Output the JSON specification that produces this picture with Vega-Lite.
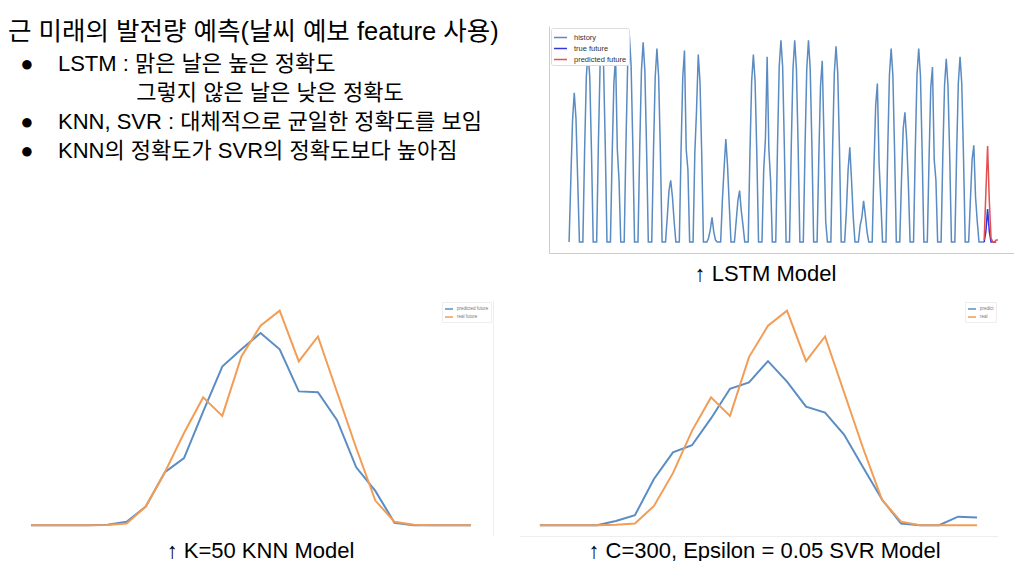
{
  "$schema": "https://vega.github.io/schema/vega-lite/v6.json",
  "padding": {"left": 8, "top": 20, "right": 0, "bottom": 0},
  "background": "white",
  "config": {
    "font": "Liberation Sans, Noto Sans CJK KR",
    "view": {"stroke": null},
    "axis": {"grid": false, "ticks": false, "labels": false, "titleFontWeight": "normal", "titleColor": "#000000", "titleFontSize": 22, "titleFont": "Liberation Sans, Noto Sans CJK KR"}
  },
  "datasets": {
    "history": [
      {"t":3,"v":0},{"t":6,"v":0.3},{"t":9,"v":0.59},{"t":12,"v":0.725},{"t":15,"v":0.6},{"t":18,"v":0.3},{"t":21,"v":0},
      {"t":24,"v":0},{"t":27,"v":0},{"t":30,"v":0.44},{"t":33,"v":0.8},{"t":36,"v":0.93},{"t":39,"v":0.8},{"t":42,"v":0.44},{"t":45,"v":0},
      {"t":48,"v":0},{"t":51,"v":0},{"t":54,"v":0.47},{"t":57,"v":0.86},{"t":60,"v":1},{"t":63,"v":0.86},{"t":66,"v":0.47},{"t":69,"v":0},
      {"t":72,"v":0},{"t":75,"v":0},{"t":78,"v":0.42},{"t":81,"v":0.77},{"t":84,"v":0.9},{"t":87,"v":0.45},{"t":90,"v":0.3},{"t":93,"v":0},
      {"t":96,"v":0},{"t":99,"v":0},{"t":102,"v":0.47},{"t":105,"v":0.86},{"t":108,"v":1},{"t":111,"v":0.86},{"t":114,"v":0.47},{"t":117,"v":0},
      {"t":120,"v":0},{"t":123,"v":0},{"t":126,"v":0.45},{"t":129,"v":0.83},{"t":132,"v":0.97},{"t":135,"v":0.83},{"t":138,"v":0.45},{"t":141,"v":0},
      {"t":144,"v":0},{"t":147,"v":0},{"t":150,"v":0.44},{"t":153,"v":0.8},{"t":156,"v":0.94},{"t":159,"v":0.8},{"t":162,"v":0.44},{"t":165,"v":0},
      {"t":168,"v":0},{"t":171,"v":0},{"t":174,"v":0.12},{"t":177,"v":0.25},{"t":180,"v":0.3},{"t":183,"v":0.22},{"t":186,"v":0.1},{"t":189,"v":0},
      {"t":192,"v":0},{"t":195,"v":0},{"t":198,"v":0.44},{"t":201,"v":0.8},{"t":204,"v":0.93},{"t":207,"v":0.45},{"t":210,"v":0.35},{"t":213,"v":0},
      {"t":216,"v":0},{"t":219,"v":0},{"t":222,"v":0.43},{"t":225,"v":0.64},{"t":228,"v":0.91},{"t":231,"v":0.78},{"t":234,"v":0.43},{"t":237,"v":0},
      {"t":240,"v":0},{"t":243,"v":0},{"t":246,"v":0.02},{"t":249,"v":0.06},{"t":252,"v":0.12},{"t":255,"v":0.05},{"t":258,"v":0.01},{"t":261,"v":0},
      {"t":264,"v":0},{"t":267,"v":0},{"t":270,"v":0.2},{"t":273,"v":0.36},{"t":276,"v":0.5},{"t":279,"v":0.37},{"t":282,"v":0.18},{"t":285,"v":0},
      {"t":288,"v":0},{"t":291,"v":0},{"t":294,"v":0.1},{"t":297,"v":0.2},{"t":300,"v":0.25},{"t":303,"v":0.15},{"t":306,"v":0.08},{"t":309,"v":0},
      {"t":312,"v":0},{"t":315,"v":0},{"t":318,"v":0.43},{"t":321,"v":0.78},{"t":324,"v":0.91},{"t":327,"v":0.78},{"t":330,"v":0.43},{"t":333,"v":0},
      {"t":336,"v":0},{"t":339,"v":0},{"t":342,"v":0.35},{"t":345,"v":0.5},{"t":348,"v":0.9},{"t":351,"v":0.45},{"t":354,"v":0.3},{"t":357,"v":0},
      {"t":360,"v":0},{"t":363,"v":0},{"t":366,"v":0.46},{"t":369,"v":0.85},{"t":372,"v":0.98},{"t":375,"v":0.85},{"t":378,"v":0.46},{"t":381,"v":0},
      {"t":384,"v":0},{"t":387,"v":0},{"t":390,"v":0.46},{"t":393,"v":0.84},{"t":396,"v":0.98},{"t":399,"v":0.84},{"t":402,"v":0.46},{"t":405,"v":0},
      {"t":408,"v":0},{"t":411,"v":0},{"t":414,"v":0.46},{"t":417,"v":0.84},{"t":420,"v":0.98},{"t":423,"v":0.84},{"t":426,"v":0.46},{"t":429,"v":0},
      {"t":432,"v":0},{"t":435,"v":0},{"t":438,"v":0.41},{"t":441,"v":0.76},{"t":444,"v":0.88},{"t":447,"v":0.5},{"t":450,"v":0.1},{"t":453,"v":0},
      {"t":456,"v":0},{"t":459,"v":0},{"t":462,"v":0.45},{"t":465,"v":0.82},{"t":468,"v":0.95},{"t":471,"v":0.82},{"t":474,"v":0.45},{"t":477,"v":0},
      {"t":480,"v":0},{"t":483,"v":0},{"t":486,"v":0.15},{"t":489,"v":0.35},{"t":492,"v":0.46},{"t":495,"v":0.3},{"t":498,"v":0.12},{"t":501,"v":0},
      {"t":504,"v":0},{"t":507,"v":0},{"t":510,"v":0.08},{"t":513,"v":0.12},{"t":516,"v":0.2},{"t":519,"v":0.13},{"t":522,"v":0.05},{"t":525,"v":0},
      {"t":528,"v":0},{"t":531,"v":0},{"t":534,"v":0.36},{"t":537,"v":0.66},{"t":540,"v":0.77},{"t":543,"v":0.38},{"t":546,"v":0.2},{"t":549,"v":0},
      {"t":552,"v":0},{"t":555,"v":0},{"t":558,"v":0.44},{"t":561,"v":0.81},{"t":564,"v":0.94},{"t":567,"v":0.81},{"t":570,"v":0.44},{"t":573,"v":0},
      {"t":576,"v":0},{"t":579,"v":0},{"t":582,"v":0.3},{"t":585,"v":0.55},{"t":588,"v":0.63},{"t":591,"v":0.5},{"t":594,"v":0.28},{"t":597,"v":0},
      {"t":600,"v":0},{"t":603,"v":0},{"t":606,"v":0.44},{"t":609,"v":0.81},{"t":612,"v":0.94},{"t":615,"v":0.81},{"t":618,"v":0.44},{"t":621,"v":0},
      {"t":624,"v":0},{"t":627,"v":0},{"t":630,"v":0.4},{"t":633,"v":0.75},{"t":636,"v":0.85},{"t":639,"v":0.4},{"t":642,"v":0.3},{"t":645,"v":0},
      {"t":648,"v":0},{"t":651,"v":0},{"t":654,"v":0.42},{"t":657,"v":0.76},{"t":660,"v":0.89},{"t":663,"v":0.76},{"t":666,"v":0.42},{"t":669,"v":0},
      {"t":672,"v":0},{"t":675,"v":0},{"t":678,"v":0.42},{"t":681,"v":0.77},{"t":684,"v":0.9},{"t":687,"v":0.77},{"t":690,"v":0.42},{"t":693,"v":0},
      {"t":696,"v":0},{"t":699,"v":0},{"t":702,"v":0.2},{"t":705,"v":0.4},{"t":708,"v":0.47},{"t":711,"v":0.22},{"t":714,"v":0.1},{"t":717,"v":0},
      {"t":720,"v":0},{"t":723,"v":0},{"t":726,"v":0}
    ],
    "trueFuture": [
      {"t":726,"v":0},{"t":729,"v":0.05},{"t":732,"v":0.16},{"t":735,"v":0.05},{"t":738,"v":0},{"t":741,"v":0},{"t":744,"v":0},{"t":747,"v":0}
    ],
    "predictedFuture": [
      {"t":726,"v":0.01},{"t":729,"v":0.24},{"t":732,"v":0.466},{"t":735,"v":0.2},{"t":738,"v":0.02},{"t":741,"v":0},{"t":744,"v":0},{"t":747,"v":0.01},{"t":750,"v":0.01}
    ],
    "knn": [
      {"h":0,"p":0,"r":0},{"h":1,"p":0,"r":0},{"h":2,"p":0,"r":0},{"h":3,"p":0,"r":0},
      {"h":4,"p":0.3,"r":0.15},{"h":5,"p":1.6,"r":0.8},{"h":6,"p":8.7,"r":8.7},{"h":7,"p":24.7,"r":24.7},
      {"h":8,"p":31.3,"r":43},{"h":9,"p":53,"r":59.6},{"h":10,"p":74,"r":51},{"h":11,"p":82,"r":78.7},
      {"h":12,"p":89.6,"r":93},{"h":13,"p":82,"r":100},{"h":14,"p":62.4,"r":76.4},{"h":15,"p":62,"r":88},
      {"h":16,"p":49,"r":62},{"h":17,"p":27,"r":36},{"h":18,"p":16,"r":11.5},{"h":19,"p":1.2,"r":1.6},
      {"h":20,"p":0,"r":0.2},{"h":21,"p":0,"r":0},{"h":22,"p":0,"r":0},{"h":23,"p":0,"r":0}
    ],
    "svr": [
      {"h":0,"p":0,"r":0},{"h":1,"p":0,"r":0},{"h":2,"p":0,"r":0},{"h":3,"p":0,"r":0},
      {"h":4,"p":2,"r":0.2},{"h":5,"p":4.7,"r":0.8},{"h":6,"p":21.6,"r":9},{"h":7,"p":34,"r":24.3},
      {"h":8,"p":37.3,"r":44},{"h":9,"p":49.8,"r":59.6},{"h":10,"p":63.6,"r":51},{"h":11,"p":66.6,"r":78.4},
      {"h":12,"p":76.5,"r":93},{"h":13,"p":67,"r":100},{"h":14,"p":55.3,"r":76.5},{"h":15,"p":52.5,"r":88},
      {"h":16,"p":42.3,"r":62},{"h":17,"p":27,"r":36},{"h":18,"p":12,"r":11.8},{"h":19,"p":0.8,"r":1.7},
      {"h":20,"p":0,"r":0},{"h":21,"p":0,"r":0},{"h":22,"p":4,"r":0},{"h":23,"p":3.6,"r":0}
    ]
  },
  "spacing": 16,
  "vconcat": [
    {
      "spacing": 21,
      "resolve": {"scale": {"color": "independent"}, "legend": {"color": "independent"}},
      "hconcat": [
        {
          "width": 520,
          "height": 1,
          "title": {
            "text": "근 미래의 발전량 예측(날씨 예보 feature 사용)",
            "subtitle": [
              "\u200b\u00a0\u00a0●\u00a0\u00a0\u00a0\u00a0LSTM : 맑은 날은 높은 정확도",
              "\u200b\u00a0\u00a0\u00a0\u00a0\u00a0\u00a0\u00a0\u00a0\u00a0\u00a0\u00a0\u00a0\u00a0\u00a0\u00a0\u00a0\u00a0\u00a0\u00a0\u00a0\u00a0그렇지 않은 날은 낮은 정확도",
              "\u200b\u00a0\u00a0●\u00a0\u00a0\u00a0\u00a0KNN, SVR : 대체적으로 균일한 정확도를 보임",
              "\u200b\u00a0\u00a0●\u00a0\u00a0\u00a0\u00a0KNN의 정확도가 SVR의 정확도보다 높아짐"
            ],
            "anchor": "start",
            "frame": "group",
            "font": "Liberation Sans, Noto Sans CJK KR",
            "fontSize": 25.5,
            "fontWeight": "normal",
            "color": "#000000",
            "lineHeight": 25,
            "offset": -142,
            "subtitleFont": "Liberation Sans, Noto Sans CJK KR",
            "subtitleFontSize": 22,
            "subtitleColor": "#000000",
            "subtitleLineHeight": 29.3,
            "subtitlePadding": 8
          },
          "data": {"values": [{"note": ""}]},
          "mark": {"type": "text"},
          "encoding": {"text": {"field": "note"}}
        },
        {
          "width": 465,
          "height": 227,
          "encoding": {
            "x": {"field": "t", "type": "quantitative", "scale": {"domain": [-32, 778], "nice": false, "zero": false},
                  "axis": {"domain": true, "domainColor": "#cccccc", "title": "↑ LSTM Model", "titlePadding": 10, "titleX": 216}},
            "y": {"field": "v", "type": "quantitative", "scale": {"domain": [-0.053, 1.049], "nice": false, "zero": false},
                  "axis": {"domain": true, "domainColor": "#cccccc", "title": null}}
          },
          "layer": [
            {
              "data": {"name": "history"},
              "mark": {"type": "line", "strokeWidth": 1.5},
              "encoding": {
                "color": {
                  "datum": "history",
                  "scale": {"domain": ["history", "true future", "predicted future"], "range": ["#5a8bc2", "#3535d8", "#e35050"]},
                  "legend": {"title": null, "orient": "top-left", "offset": 2, "padding": 2, "strokeColor": "#dddddd", "fillColor": "#ffffff", "cornerRadius": 2,
                             "symbolType": "stroke", "symbolSize": 169, "symbolStrokeWidth": 1.5, "labelFontSize": 7.5, "labelColor": "#333333", "rowPadding": -7, "labelOffset": 6}
                }
              }
            },
            {
              "data": {"name": "trueFuture"},
              "mark": {"type": "line", "strokeWidth": 1.5},
              "encoding": {"color": {"datum": "true future"}}
            },
            {
              "data": {"name": "predictedFuture"},
              "mark": {"type": "line", "strokeWidth": 1.5},
              "encoding": {"color": {"datum": "predicted future"}}
            }
          ]
        }
      ]
    },
    {
      "spacing": 26,
      "resolve": {"scale": {"color": "independent"}, "legend": {"color": "independent"}},
      "hconcat": [
        {
          "width": 485,
          "height": 236,
          "data": {"name": "knn"},
          "encoding": {
            "x": {"field": "h", "type": "quantitative", "scale": {"domain": [-1.2, 24.15], "nice": false, "zero": false},
                  "axis": {"domain": false, "title": "↑ K=50 KNN Model", "titlePadding": 4.5, "titleX": 252}}
          },
          "layer": [
            {
              "mark": {"type": "line", "strokeWidth": 2},
              "encoding": {
                "y": {"field": "p", "type": "quantitative", "scale": {"domain": [-5, 105], "nice": false, "zero": false},
                      "axis": {"orient": "right", "domain": true, "domainColor": "#eeeeee", "title": null}},
                "color": {
                  "datum": "predicted future",
                  "scale": {"domain": ["predicted future", "real future"], "range": ["#5b8dc4", "#f29d56"]},
                  "legend": {"title": null, "orient": "top-right", "offset": 2, "padding": 2, "strokeColor": "#eeeeee", "fillColor": "#ffffff",
                             "symbolType": "stroke", "symbolSize": 64, "symbolStrokeWidth": 1.5, "labelFontSize": 4.5, "labelColor": "#777777", "rowPadding": -2, "labelOffset": 3}
                }
              }
            },
            {
              "mark": {"type": "line", "strokeWidth": 2},
              "encoding": {
                "y": {"field": "r", "type": "quantitative", "title": null},
                "color": {"datum": "real future"}
              }
            }
          ]
        },
        {
          "width": 479,
          "height": 236,
          "data": {"name": "svr"},
          "encoding": {
            "x": {"field": "h", "type": "quantitative", "scale": {"domain": [-1.1, 24.1], "nice": false, "zero": false},
                  "axis": {"domain": true, "domainColor": "#eeeeee", "title": "↑ C=300, Epsilon = 0.05 SVR Model", "titlePadding": 4.5, "titleX": 245}}
          },
          "layer": [
            {
              "mark": {"type": "line", "strokeWidth": 2},
              "encoding": {
                "y": {"field": "p", "type": "quantitative", "scale": {"domain": [-5, 105], "nice": false, "zero": false}, "axis": null},
                "color": {
                  "datum": "predict",
                  "scale": {"domain": ["predict", "real"], "range": ["#5b8dc4", "#f29d56"]},
                  "legend": {"title": null, "orient": "top-right", "offset": 2, "padding": 2, "strokeColor": "#eeeeee", "fillColor": "#ffffff",
                             "symbolType": "stroke", "symbolSize": 64, "symbolStrokeWidth": 1.5, "labelFontSize": 4.5, "labelColor": "#777777", "rowPadding": -2, "labelOffset": 3}
                }
              }
            },
            {
              "mark": {"type": "line", "strokeWidth": 2},
              "encoding": {
                "y": {"field": "r", "type": "quantitative", "axis": null},
                "color": {"datum": "real"}
              }
            }
          ]
        }
      ]
    }
  ],
  "resolve": {"scale": {"color": "independent"}, "legend": {"color": "independent"}}
}
